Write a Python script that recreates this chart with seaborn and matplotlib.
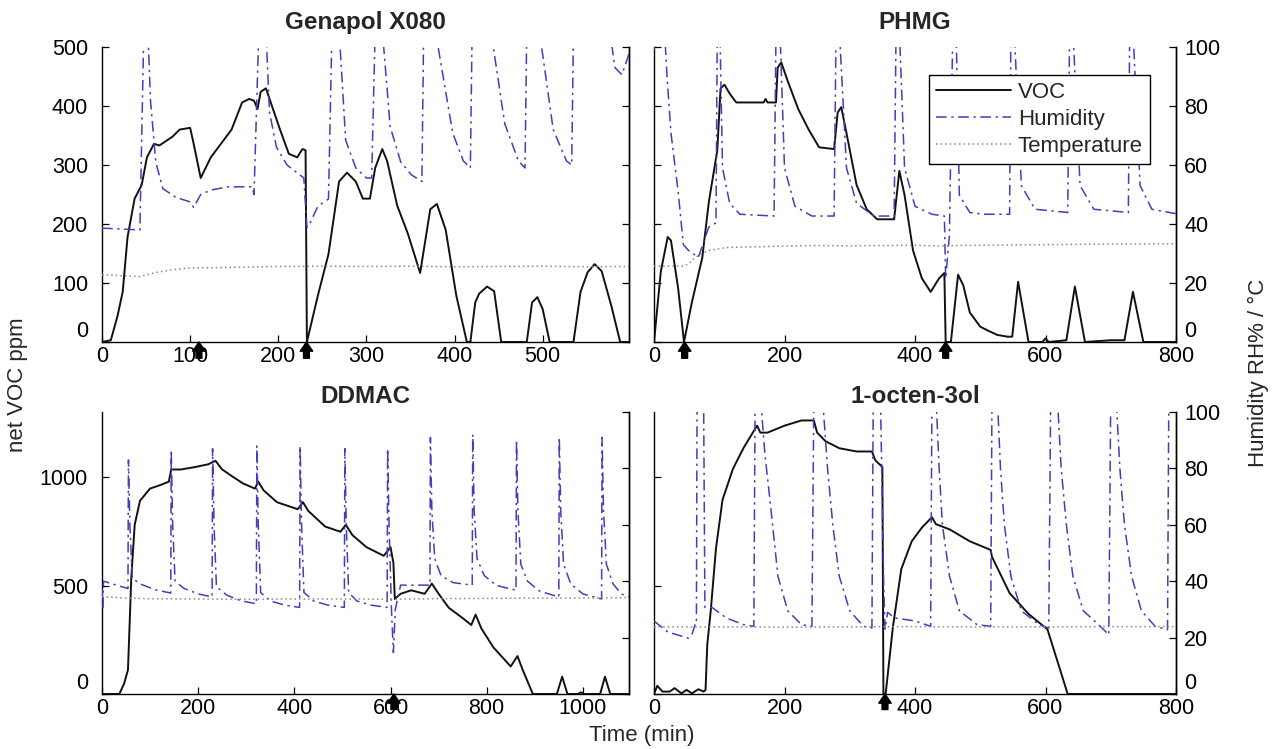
import numpy as np
import pandas as pd
import matplotlib
matplotlib.use("Agg")
import matplotlib.pyplot as plt
import seaborn as sns
from matplotlib.lines import Line2D

# ---- Genapol X080 ----
gen_t_voc = [0, 10, 17.6, 23.5, 29, 37, 45, 51, 59, 65, 80, 88, 100, 104, 112, 123.5, 135, 147, 159, 167,
             172.5, 176.5, 180, 186, 194, 202, 212, 221.5, 227.5, 231, 232.5, 245, 257, 269, 278, 288, 296,
             304, 310, 318, 323.5, 335, 347, 361, 372.5, 380, 390, 402, 414, 418, 423.5, 428, 437, 445, 453,
             482, 488, 494, 500, 508, 535, 543, 551, 559, 567, 578, 588, 598]
gen_voc = [0, 3, 44, 85, 178, 243, 266, 313, 336, 333, 348, 360, 363, 336, 278, 313, 336, 360, 406, 412,
           409, 395, 424, 430, 395, 360, 319, 313, 327, 325, 0, 79, 149, 272, 287, 272, 243,
           243, 295, 327, 307, 231, 184, 117, 225, 234, 190, 79, 0, 0, 67, 82, 94, 86, 0,
           0, 67, 76, 56, 0, 0, 85, 118, 132, 120, 61, 0, 0]
gen_t_rh = [0, 43, 47, 50, 52, 55, 61, 69, 84, 100, 104, 112, 123.5, 143, 170.6, 172.5, 178, 186, 190, 198,
            210, 229, 232.5, 234, 245, 257, 261, 269, 276.5, 288, 300, 306, 310, 318, 327, 339, 351, 363,
            365, 378, 398, 410, 418, 420, 441, 457, 472.5, 480, 482, 496, 512, 527, 533, 535, 576, 582,
            590, 598]
gen_rh = [38.6, 38, 99, 106, 106, 82, 61, 52, 49, 47.5, 45.6, 50, 51.5, 52.6, 52.6, 50, 106, 106, 78, 66,
          60, 55.6, 39, 39, 46, 48.5, 106, 106, 68.4, 59, 55.6, 55.6, 106, 106, 73, 61, 56.7, 54.4,
          106, 106, 70.8, 61.4, 59, 106, 106, 74, 61.4, 59, 106, 106, 72, 61.4, 60, 106, 106, 93,
          90.6, 97.7]
gen_t_temp = [0, 20, 43, 60, 80, 100, 150, 200, 250, 300, 350, 400, 450, 500, 550, 598]
gen_temp = [22.8, 22.5, 22.2, 23.5, 24.5, 25.1, 25.3, 25.6, 25.7, 25.6, 25.7, 25.5, 25.6, 25.7, 25.5, 25.6]
gen_arrows = [110, 232]

# ---- PHMG ----
phm_t_voc = [0, 10.5, 21, 26, 37, 46, 58, 74, 84, 97, 102, 108, 116, 126, 168, 171, 174, 187, 189.5, 195,
             205, 221, 237, 253, 276, 281.5, 287, 295, 310.5, 326, 342, 368, 376, 384, 397, 410.5, 424, 437,
             445, 447, 455, 466, 474, 484, 500, 510.5, 526, 542, 549, 558, 574, 595, 600, 605, 632, 645,
             660.5, 700, 721, 734, 750, 800]
phm_voc = [0, 120, 178, 172, 91, 0, 67, 143, 237, 325, 430, 436, 421, 406, 406, 412, 406, 406, 465, 474,
           442, 395, 360, 330, 327, 389, 398, 354, 266, 225, 208, 208, 290, 249, 155, 108, 85, 108,
           117, 0, 0, 114, 96, 50, 26, 20, 12, 9, 9, 102, 0, 0, 6, 0, 3, 94,
           0, 3, 3, 85, 0, 0]
phm_t_rh = [0, 3, 16, 20, 26, 37, 45, 53, 68, 84, 95, 97, 101, 105, 116, 131.6, 184, 187, 193, 200, 216,
            242, 276, 279, 284, 295, 310.5, 337, 368, 371, 376, 384, 400, 426, 445, 447, 452.6, 458, 463,
            468, 484, 505, 545, 547, 552, 563, 584, 634, 637, 642, 653, 674, 727, 729, 734, 745, 763, 800]
phm_rh = [99, 106, 106, 90, 70.8, 51, 33, 31, 28.7, 39, 40.4, 106, 106, 59, 47, 43.3, 42.7, 106, 106, 59, 46,
          42.7, 42.7, 106, 106, 59, 47, 42.7, 42.7, 106, 106, 59, 46, 43.3, 42.7, 21.6, 35.7, 106, 106,
          49.7, 43.9, 43.3, 43.3, 106, 106, 53, 45, 43.9, 106, 106, 53, 45, 43.9, 106, 106, 53, 45, 43.5]
phm_t_temp = [0, 45, 53, 63, 74, 84, 110, 137, 200, 242, 300, 400, 447, 460, 500, 600, 700, 800]
phm_temp = [25.7, 25.7, 26.5, 28.7, 30, 31, 32, 32.2, 32.5, 32.7, 32.6, 32.8, 32.5, 32.7, 32.8, 33, 33.2, 33.3]
phm_arrows = [47, 447]

# ---- DDMAC ----
ddm_t_voc = [0, 36, 46, 54, 61, 68, 79, 100, 121, 139, 144, 164, 193, 221, 236, 250, 271, 293, 318, 325,
             336, 364, 407, 418, 429, 464, 496, 507, 521, 550, 586, 600, 606, 609, 621, 643, 671, 686, 700,
             721, 750, 768, 777, 789, 814, 850, 864, 875, 896, 946, 957, 968, 990, 996, 1002, 1036, 1046,
             1057, 1096]
ddm_voc = [0, 0, 48, 111, 541, 780, 891, 947, 963, 979, 1035, 1035, 1046, 1059, 1075, 1035, 1003, 971, 947, 979,
           939, 884, 852, 884, 844, 772, 748, 780, 732, 677, 637, 677, 605, 438, 462, 478, 462, 509, 462,
           398, 350, 318, 366, 302, 215, 127, 175, 111, 0, 0, 80, 0, 0, 8, 0, 0, 80,
           0, 0]
ddm_t_rh = [0, 2, 3, 54, 55, 58, 63, 80, 110, 143,
            144, 147, 152, 170, 200, 229,
            230, 233, 238, 260, 290, 321,
            322, 325, 330, 350, 380, 411,
            412, 415, 420, 440, 470, 504,
            505, 508, 513, 530, 560, 593,
            594, 597, 602, 606, 610, 621, 682,
            683, 686, 692, 705, 730, 770,
            771, 774, 780, 795, 820, 861,
            862, 865, 871, 885, 910, 950,
            951, 954, 960, 975, 1000, 1039,
            1040, 1043, 1049, 1063, 1080, 1096]
ddm_rh = [37.4, 30, 40, 37.4, 83, 60, 41, 39, 37, 35.8,
          86.5, 60, 40, 37.5, 35.5, 34.4,
          87, 60, 38, 35, 33, 32,
          88, 60, 36, 33, 31.5, 30.7,
          88, 60, 36, 33, 31.5, 30.7,
          87, 60, 36, 33, 31.5, 30.7,
          87, 60, 30, 14.7, 30, 38.6, 38.6,
          91, 65, 48, 42, 39.5, 38.6,
          92, 65, 48, 42, 38.5, 36.8,
          90, 65, 46, 40, 36.5, 34.4,
          91, 65, 46, 39, 35.5, 33.7,
          91, 65, 46, 39, 35.5, 34.4]
ddm_t_temp = [0, 50, 100, 200, 300, 400, 500, 600, 700, 800, 900, 1000, 1096]
ddm_temp = [34.5, 34, 33.8, 33.7, 33.6, 33.7, 33.7, 33.6, 33.8, 33.9, 34, 34, 34.2]
ddm_arrows = [607]

# ---- 1-octen-3ol ----
oct_t_voc = [0, 5, 13, 24, 31.6, 42, 50, 58, 68, 76, 79, 81.6, 87, 95, 105, 121, 137, 153, 158, 163, 174,
             200, 226, 245, 250, 263, 284, 310.5, 334, 339, 350, 351.6, 355, 366, 379, 395, 410.5, 426,
             432, 453, 484, 516, 518, 545, 574, 603, 634, 800]
oct_voc = [0, 38, 11, 11, 27, 3, 19, 3, 22, 11, 19, 226, 385, 672, 895, 1038, 1133, 1213, 1237, 1205, 1205,
           1237, 1261, 1261, 1205, 1165, 1133, 1118, 1118, 1078, 1046, 0, 0, 306, 576, 704, 767, 815,
           783, 759, 704, 664, 632, 465, 369, 298, 0, 0]
oct_t_rh = [0, 21, 52.6, 58, 63, 65, 66, 76, 78, 89, 110.5, 137, 153, 155, 163, 170, 179, 190, 205, 226,
            242, 245, 258, 266, 274, 284, 300, 321, 334, 336, 347, 352, 354, 358, 368, 400, 424, 426, 432,
            437, 442, 453, 468, 495, 516, 518, 526, 531, 537, 547, 563, 590, 605, 608, 618, 624, 632, 642,
            658, 684, 697, 700, 708, 714, 721, 732, 747, 768, 787, 789, 800]
oct_rh = [25.9, 22, 19.8, 21, 24.6, 24.6, 106, 106, 30.7, 30.7, 27, 24.6, 24, 106, 106, 85, 66, 41.7, 29.5, 24.6,
          24, 106, 106, 80, 60, 41.7, 29.5, 24, 23.4, 106, 106, 40, 23, 29, 27, 25.9, 24, 106, 106,
          80, 60, 41.7, 29.5, 24.6, 24, 106, 106, 80, 60, 41.7, 29.5, 24.6, 23.4, 106, 106, 80, 60, 41.7,
          29.5, 24, 21, 106, 106, 80, 60, 41.7, 29.5, 24, 22.8, 106, 106]
oct_t_temp = [0, 100, 200, 300, 400, 500, 600, 700, 800]
oct_temp = [23.8, 23.8, 23.7, 23.8, 23.9, 23.8, 23.8, 23.9, 23.9]
oct_arrows = [354]

sns.set_theme(style="white")
plt.rcParams["font.family"] = ["Liberation Sans", "DejaVu Sans"]

W, H = 1274, 749
fig = plt.figure(figsize=(W / 100, H / 100), dpi=100)

voc_color = "#111111"
rh_color = "#4040b8"
temp_color = "#8a8a8a"
rh_style = (0, (7, 3, 1.5, 3))
temp_style = (0, (1, 2))


def box(x0, x1, y0, y1):
    return [x0 / W, 1 - y1 / H, (x1 - x0) / W, (y1 - y0) / H]


def panel(rect, title, t_voc, voc, t_rh, rh, t_temp, temp, arrows,
          xmax, xticks, ymax, yticks, left_lab, right_lab, title_pad):
    ax = fig.add_axes(rect)
    ax2 = ax.twinx()
    sns.lineplot(x=t_voc, y=voc, ax=ax, color=voc_color, lw=1.4,
                 estimator=None, sort=False)
    sns.lineplot(x=t_rh, y=rh, ax=ax2, color=rh_color, lw=1.1,
                 linestyle=rh_style, estimator=None, sort=False)
    sns.lineplot(x=t_temp, y=temp, ax=ax2, color=temp_color, lw=1.1,
                 linestyle=temp_style, estimator=None, sort=False)
    ax.set_xlim(0, xmax)
    ax.set_ylim(0, ymax)
    ax2.set_ylim(0, 100)
    ax.set_xticks(xticks)
    ax.set_yticks(yticks)
    ax2.set_yticks([0, 20, 40, 60, 80, 100])
    if not left_lab:
        ax.set_yticklabels([])
    if not right_lab:
        ax2.set_yticklabels([])
    for a in (ax, ax2):
        a.set_xlabel("")
        a.set_ylabel("")
        a.spines["top"].set_visible(False)
        for s in a.spines.values():
            s.set_color("black")
            s.set_linewidth(1.0)
    ax2.spines["left"].set_visible(False)
    ax2.spines["bottom"].set_visible(False)
    ax.tick_params(axis="both", direction="in", length=5, width=0.9,
                   labelsize=15.5, colors="black", left=True, bottom=True,
                   right=False, top=False)
    ax.tick_params(axis="y", pad=10)
    ax.tick_params(axis="x", pad=3)
    ax2.tick_params(axis="y", direction="in", length=5, width=0.9,
                    labelsize=15.5, colors="black", right=True, left=False, pad=6)
    # the "0" on each value axis sits a bit above the time labels
    ax.yaxis.get_major_ticks()[0].label1.set_va("bottom")
    ax2.yaxis.get_major_ticks()[0].label2.set_va("bottom")
    ax.set_title(title, fontsize=17.5, fontweight="bold", pad=title_pad)
    # black event arrows under the time axis
    for t in arrows:
        ax.annotate("", xy=(t, 0.0), xycoords=("data", "axes fraction"),
                    xytext=(t, -0.055), textcoords=("data", "axes fraction"),
                    arrowprops=dict(arrowstyle="simple,head_width=0.75,head_length=0.55,tail_width=0.35",
                                    color="black", shrinkA=0, shrinkB=0),
                    annotation_clip=False, zorder=10)
    return ax, ax2


panel(box(102, 629, 47, 342), "Genapol X080", gen_t_voc, gen_voc, gen_t_rh, gen_rh,
      gen_t_temp, gen_temp, gen_arrows, 598, [0, 100, 200, 300, 400, 500],
      500, [0, 100, 200, 300, 400, 500], True, False, 13)
ax_tr, ax_tr2 = panel(box(654, 1176, 47, 342), "PHMG", phm_t_voc, phm_voc, phm_t_rh, phm_rh,
                      phm_t_temp, phm_temp, phm_arrows, 800, [0, 200, 400, 600, 800],
                      500, [0, 100, 200, 300, 400, 500], False, True, 13)
panel(box(102, 629, 412, 694), "DDMAC", ddm_t_voc, ddm_voc, ddm_t_rh, ddm_rh,
      ddm_t_temp, ddm_temp, ddm_arrows, 1096, [0, 200, 400, 600, 800, 1000],
      1300, [0, 500, 1000], True, False, 6.5)
panel(box(654, 1176, 412, 694), "1-octen-3ol", oct_t_voc, oct_voc, oct_t_rh, oct_rh,
      oct_t_temp, oct_temp, oct_arrows, 800, [0, 200, 400, 600, 800],
      1300, [0, 500, 1000], False, True, 6.5)

handles = [Line2D([], [], color=voc_color, lw=1.4),
           Line2D([], [], color=rh_color, lw=1.1, linestyle=rh_style),
           Line2D([], [], color=temp_color, lw=1.1, linestyle=temp_style)]
leg = ax_tr2.legend(handles, ["VOC", "Humidity", "Temperature"], loc="upper left",
                    bbox_to_anchor=(929 / W, 1 - 75 / H), bbox_transform=fig.transFigure,
                    frameon=True, fancybox=False, framealpha=1, edgecolor="black",
                    fontsize=16, handlelength=3.4, handletextpad=0.3, borderpad=0.3,
                    labelspacing=0.28, borderaxespad=0)
leg.get_frame().set_linewidth(1.0)

fig.text(18 / W, 1 - 385 / H, "net VOC ppm", rotation=90, ha="center", va="center", fontsize=16)
fig.text(1258 / W, 1 - 373 / H, "Humidity RH% / °C", rotation=90, ha="center", va="center", fontsize=16)
fig.text(642 / W, 1 - 736 / H, "Time (min)", ha="center", va="center", fontsize=16)

fig.savefig("out.png", dpi=100)
